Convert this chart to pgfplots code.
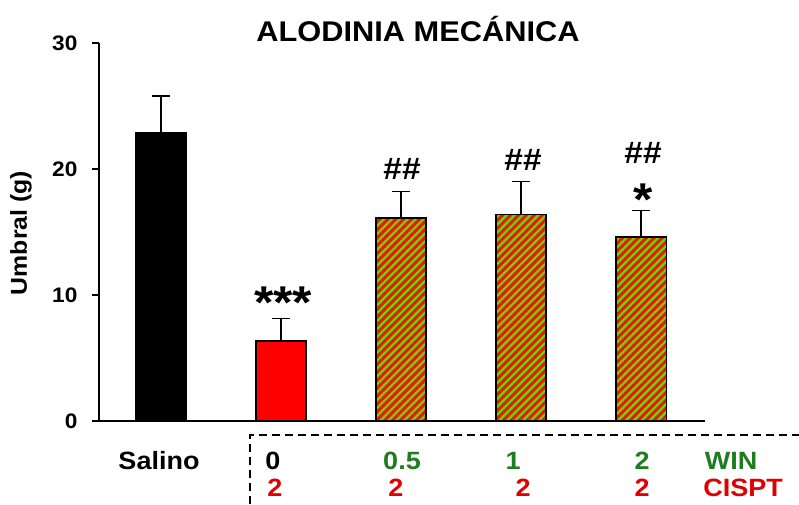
\documentclass[border=0pt]{standalone}
\usepackage{fontspec}
\setmainfont{Liberation Sans}[FakeStretch=1.08]
\usepackage{pgfplots}
\pgfplotsset{compat=1.18}
\usetikzlibrary{patterns.meta}
\definecolor{barred}{RGB}{255,0,0}
\definecolor{hatchred}{RGB}{228,25,0}
\definecolor{hatchgreen}{RGB}{115,210,0}
\definecolor{txtgreen}{RGB}{30,125,30}
\definecolor{txtred}{RGB}{225,0,0}
\newcommand{\fs}[1]{\fontsize{#1}{#1}\selectfont\bfseries}
\begin{document}
\begin{tikzpicture}[x=1pt,y=1pt]
\useasboundingbox (0,0) rectangle (799,504);
\begin{axis}[
  at={(99pt,83pt)}, anchor=south west,
  scale only axis, width=606pt, height=378pt,
  xmin=-0.517, xmax=4.533, ymin=0, ymax=30,
  axis x line=bottom, axis y line=left,
  axis line style={-, line width=1.3pt, black},
  xtick=\empty, ytick={0,10,20,30},
  tick align=outside, major tick length=7pt,
  tick style={line width=1.3pt, black},
  /pgf/number format/assume math mode=true,
  yticklabel style={font=\fs{21}, xshift=-11pt},
  clip=false,
  bar width=0.42,
  error bars/y dir=plus, error bars/y explicit,
  error bars/error bar style={line width=1.5pt, black},
  error bars/error mark options={rotate=90, mark size=9pt, line width=1.5pt, black},
]
\addplot[ybar, bar shift=0pt, fill=black, draw=black, line width=1.5pt]
  coordinates {(0,22.85) +- (0,2.95)};
\addplot[ybar, bar shift=0pt, fill=barred, draw=black, line width=1.5pt]
  coordinates {(1,6.35) +- (0,1.8)};
\addplot[ybar, bar shift=0pt, draw=black, line width=1.5pt,
  preaction={fill=hatchgreen}, pattern color=hatchred,
  pattern={Lines[angle=45,distance=5.6pt,line width=3pt]}]
  coordinates {(2,16.1) +- (0,2.1) (3,16.4) +- (0,2.6) (4,14.6) +- (0,2.1)};
\end{axis}
% title and axis label
\node[anchor=base] at (418,462) {\fs{28.5}ALODINIA MECÁNICA};
\node[rotate=90, anchor=center] at (21,271) {\fs{23}Umbral (g)};
% significance marks
\node[anchor=base] at (283,185.5) {\fs{46}***};
\node[anchor=base] at (402,324.5) {\fs{31}\#\#};
\node[anchor=base] at (523,333.5) {\fs{31}\#\#};
\node[anchor=base] at (643,340.5) {\fs{31}\#\#};
\node[anchor=base] at (643,288.5) {\fs{46}*};
% dashed frame
\draw[line width=2pt, dash pattern=on 8pt off 5pt] (250,0) -- (250,69) -- (799,69);
% group labels
\node[anchor=base] at (159,35) {\fs{25}Salino};
\node[anchor=base] at (273,35) {\fs{25}0};
\node[anchor=base, text=txtgreen] at (402,35) {\fs{25}0.5};
\node[anchor=base, text=txtgreen] at (513,35) {\fs{25}1};
\node[anchor=base, text=txtgreen] at (642,35) {\fs{25}2};
\node[anchor=base, text=txtgreen] at (731,35) {\fs{25}WIN};
\node[anchor=base, text=txtred] at (275,8) {\fs{25}2};
\node[anchor=base, text=txtred] at (396,8) {\fs{25}2};
\node[anchor=base, text=txtred] at (523,8) {\fs{25}2};
\node[anchor=base, text=txtred] at (642,8) {\fs{25}2};
\node[anchor=base, text=txtred] at (743,8) {\fs{25}CISPT};
\end{tikzpicture}
\end{document}
